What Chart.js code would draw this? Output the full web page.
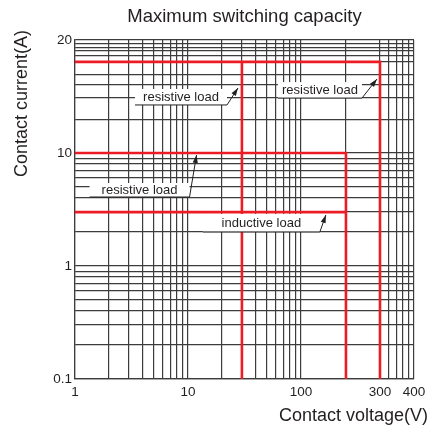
<!DOCTYPE html>
<html>
<head>
<meta charset="utf-8">
<script src="https://cdn.jsdelivr.net/npm/chart.js@4.4.1/dist/chart.umd.min.js"></script>
<style>
  html, body { margin: 0; padding: 0; background: #fff; }
  canvas { display: block; }
</style>
</head>
<body>
<canvas id="capacityChart" width="432" height="430"></canvas>
<script>
// tick labels
const voltageLabels = [1, 10, 100, 300, 400];
const currentLabels = [0.1, 1, 10, 20];

// grid lines (the last decade on both axes is stretched in the original drawing)
const voltageGrid = [1, 2, 3, 4, 5, 6, 7, 8, 9, 10, 20, 30, 40, 50, 60, 70, 80, 90, 100, 250, 300, 320, 340, 360, 380, 400];
const currentGrid = [0.1, 0.2, 0.3, 0.4, 0.5, 0.6, 0.7, 0.8, 0.9, 1, 2, 3, 4, 5, 6, 7, 8, 9, 10, 11.1, 12.3, 13.4, 14.4, 16, 17, 17.9, 18.5, 19.2, 20];

// limit curves (voltage V, current A)
const res300Voltage = [1, 300, 300];
const res300Current = [16, 16, 0.1];
const res30Voltage = [30, 30];
const res30Current = [16, 0.1];
const res250Voltage = [1, 250, 250];
const res250Current = [10, 10, 0.1];
const ind250Voltage = [1, 250];
const ind250Current = [3, 3];

const RED = '#ed1c24';
const INK = '#231f20';
const GRID = '#3c3c3c';
const FONT = "'Liberation Sans', Arial, sans-serif";

// the drawing squeezes 250..400 V and 10..20 A into a full decade each
const WARP = {
    x: { to: v => v <= 250 ? v : 250 + 5 * (v - 250), from: d => d <= 250 ? d : 250 + (d - 250) / 5 },
    y: { to: v => v <= 10 ? v : 10 + 9 * (v - 10), from: d => d <= 10 ? d : 10 + (d - 10) / 9 }
};

class StretchedLogScale extends Chart.LogarithmicScale {
    _span() {
        const w = WARP[this.id];
        const a = Math.log10(w.to(this.min));
        return [w, a, Math.log10(w.to(this.max)) - a];
    }
    getPixelForValue(value) {
        if (value === null || value === undefined || value <= 0) return NaN;
        const [w, a, r] = this._span();
        return this.getPixelForDecimal((Math.log10(w.to(value)) - a) / r);
    }
    getValueForPixel(pixel) {
        const [w, a, r] = this._span();
        return w.from(Math.pow(10, a + this.getDecimalForPixel(pixel) * r));
    }
}
StretchedLogScale.id = 'stretchedLog';
Chart.register(StretchedLogScale);

const annotations = [
    { text: 'resistive load', tip: [27.7, 13.07], box: [-103, 1, -11, 17] },
    { text: 'resistive load', tip: [294, 13.9], box: [-99, 3, -15, 19] },
    { text: 'resistive load', tip: [11.9, 9.6], box: [-107, 28, -7, 42] },
    { text: 'inductive load', tip: [166, 2.83], box: [-123, -1, -6, 17] }
];

const loadLabels = {
    id: 'loadLabels',
    afterDatasetsDraw(chart) {
        const { ctx, scales: { x, y } } = chart;
        ctx.save();
        annotations.forEach(a => {
            const tx = x.getPixelForValue(a.tip[0]);
            const ty = y.getPixelForValue(a.tip[1]);
            const [x0, y0, x1, y1] = [tx + a.box[0], ty + a.box[1], tx + a.box[2], ty + a.box[3]];
            ctx.fillStyle = '#fff';
            ctx.fillRect(x0, y0, x1 - x0, y1 - y0);

            ctx.fillStyle = INK;
            ctx.font = '13px ' + FONT;
            ctx.textAlign = 'center';
            ctx.textBaseline = 'middle';
            ctx.fillText(a.text, (x0 + x1) / 2, (y0 + y1) / 2);

            ctx.strokeStyle = INK;
            ctx.lineWidth = 1;
            ctx.beginPath();
            ctx.moveTo(x0, y1);
            ctx.lineTo(x1, y1);
            ctx.lineTo(tx, ty);
            ctx.stroke();

            // arrow head
            const ang = Math.atan2(ty - y1, tx - x1);
            const len = 8, half = 2.6;
            ctx.beginPath();
            ctx.moveTo(tx, ty);
            ctx.lineTo(tx - len * Math.cos(ang) + half * Math.sin(ang), ty - len * Math.sin(ang) - half * Math.cos(ang));
            ctx.lineTo(tx - len * Math.cos(ang) - half * Math.sin(ang), ty - len * Math.sin(ang) + half * Math.cos(ang));
            ctx.closePath();
            ctx.fill();
        });
        ctx.restore();
    }
};

// axis titles sit a little outside the plot edges in the original
const axisTitles = {
    id: 'axisTitles',
    afterDraw(chart) {
        const { ctx, chartArea } = chart;
        ctx.save();
        ctx.fillStyle = INK;
        ctx.font = '18px ' + FONT;
        ctx.textBaseline = 'middle';
        ctx.textAlign = 'right';
        ctx.fillText('Contact voltage(V)', chartArea.right + 14, chartArea.bottom + 37);
        ctx.translate(22, chartArea.top - 10);
        ctx.rotate(-Math.PI / 2);
        ctx.fillText('Contact current(A)', 0, 0);
        ctx.restore();
    }
};

function toPoints(xs, ys) {
    return xs.map((v, i) => ({ x: v, y: ys[i] }));
}

function redLine(xs, ys) {
    return {
        data: toPoints(xs, ys),
        showLine: true,
        borderColor: RED,
        borderWidth: 2.6,
        pointRadius: 0,
        fill: false,
        tension: 0
    };
}

new Chart(document.getElementById('capacityChart'), {
    type: 'scatter',
    data: {
        datasets: [
            redLine(res300Voltage, res300Current),
            redLine(res30Voltage, res30Current),
            redLine(res250Voltage, res250Current),
            redLine(ind250Voltage, ind250Current)
        ]
    },
    options: {
        responsive: false,
        animation: false,
        layout: { padding: { top: 0, right: 18, bottom: 0, left: 0 } },
        plugins: {
            legend: { display: false },
            tooltip: { enabled: false },
            title: {
                display: true,
                text: 'Maximum switching capacity',
                fullSize: false,
                color: INK,
                font: { family: FONT, size: 18.5, weight: 'normal', lineHeight: 1.2 },
                padding: { top: 6, bottom: 11.8 }
            }
        },
        scales: {
            x: {
                type: 'stretchedLog',
                min: 1,
                max: 400,
                afterBuildTicks: scale => { scale.ticks = voltageGrid.map(value => ({ value })); },
                afterFit: scale => { scale.height = 51; },
                grid: { color: GRID, lineWidth: 1.2, drawTicks: false },
                border: { color: GRID, width: 1.2 },
                ticks: {
                    autoSkip: false,
                    maxRotation: 0,
                    padding: 5,
                    color: INK,
                    font: { family: FONT, size: 13.5 },
                    callback: value => voltageLabels.includes(value) ? String(value) : ''
                }
            },
            y: {
                type: 'stretchedLog',
                min: 0.1,
                max: 20,
                afterBuildTicks: scale => { scale.ticks = currentGrid.map(value => ({ value })); },
                afterFit: scale => { scale.width = 75; },
                grid: { color: GRID, lineWidth: 1.2, drawTicks: false },
                border: { color: GRID, width: 1.2 },
                ticks: {
                    autoSkip: false,
                    padding: 3,
                    color: INK,
                    font: { family: FONT, size: 13.5 },
                    callback: value => currentLabels.includes(value) ? String(value) : ''
                }
            }
        }
    },
    plugins: [loadLabels, axisTitles]
});
</script>
</body>
</html>
